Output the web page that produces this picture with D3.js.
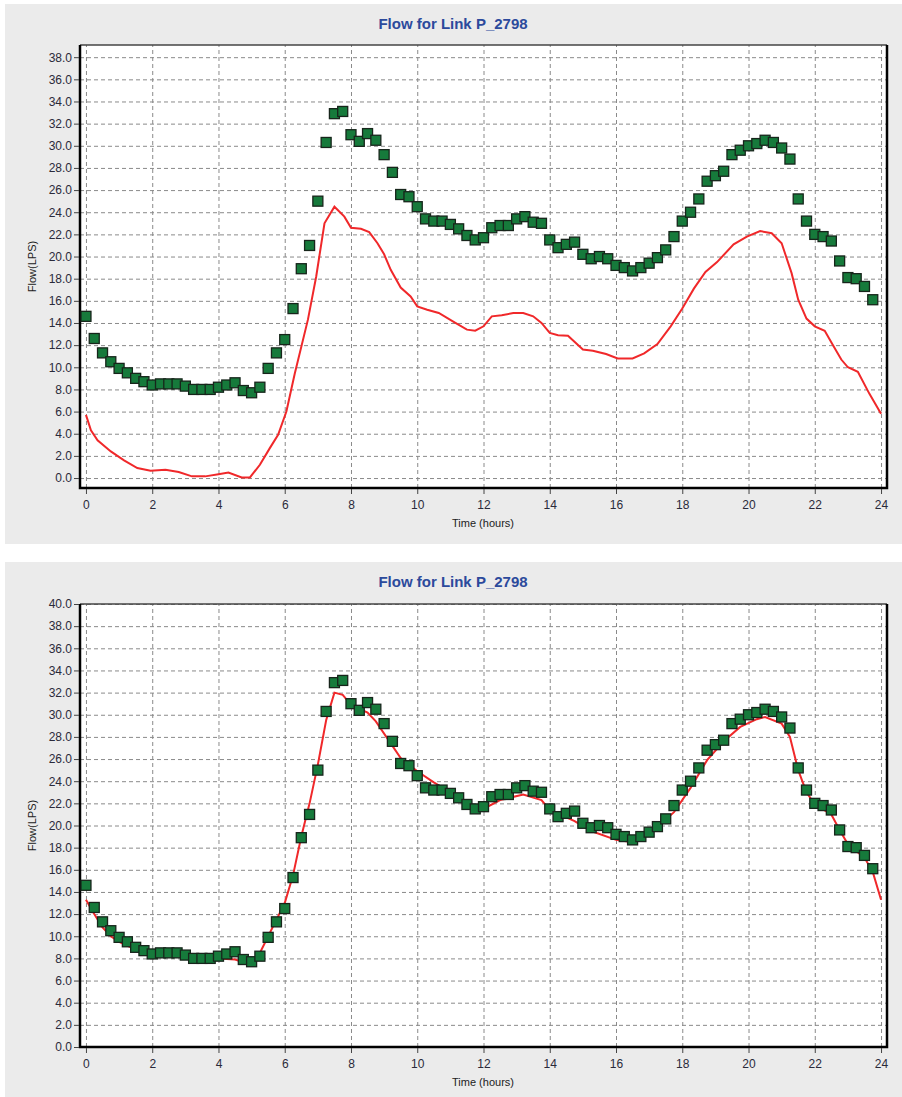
<!DOCTYPE html>
<html>
    <head>
        <title>Flow for Link P_2798</title>
        <script src="https://d3js.org/d3.v7.min.js"></script>
        <style>
            body { margin: 0; background: #fff; }
            svg { display: block; }
            .tick text {
                font-family: "Liberation Sans", Arial, sans-serif;
                font-size: 12px;
                fill: #2a2a3a;
            }
            .axis path { display: none; }
            .axis line { stroke: #444; }
            .grid line {
                stroke: #8a8a8a;
                stroke-dasharray: 4,3;
            }
            .grid path, .grid text { display: none; }
            .title {
                font-family: "Liberation Sans", Arial, sans-serif;
                font-size: 15px;
                font-weight: bold;
                fill: #2c4a9c;
            }
            .label {
                font-family: "Liberation Sans", Arial, sans-serif;
                font-size: 11px;
                fill: #222;
            }
        </style>
    </head>
    <body>
        <svg width="902" height="1097"></svg>
        <script>
            // observed flow (green squares), every 15 min
            var obsTimes = [0, 0.25, 0.5, 0.75, 1, 1.25, 1.5, 1.75, 2, 2.25, 2.5, 2.75,
                3, 3.25, 3.5, 3.75, 4, 4.25, 4.5, 4.75, 5, 5.25, 5.5, 5.75,
                6, 6.25, 6.5, 6.75, 7, 7.25, 7.5, 7.75, 8, 8.25, 8.5, 8.75,
                9, 9.25, 9.5, 9.75, 10, 10.25, 10.5, 10.75, 11, 11.25, 11.5, 11.75,
                12, 12.25, 12.5, 12.75, 13, 13.25, 13.5, 13.75, 14, 14.25, 14.5, 14.75,
                15, 15.25, 15.5, 15.75, 16, 16.25, 16.5, 16.75, 17, 17.25, 17.5, 17.75,
                18, 18.25, 18.5, 18.75, 19, 19.25, 19.5, 19.75, 20, 20.25, 20.5, 20.75,
                21, 21.25, 21.5, 21.75, 22, 22.25, 22.5, 22.75, 23, 23.25, 23.5, 23.75];
            var obsFlow = [14.6, 12.6, 11.3, 10.5, 9.9, 9.5, 9.0, 8.7, 8.4, 8.5, 8.5, 8.5,
                8.3, 8.0, 8.0, 8.0, 8.2, 8.4, 8.6, 7.9, 7.7, 8.2, 9.9, 11.3,
                12.5, 15.3, 18.9, 21.0, 25.0, 30.3, 32.9, 33.1, 31.0, 30.4, 31.1, 30.5,
                29.2, 27.6, 25.6, 25.4, 24.5, 23.4, 23.2, 23.2, 22.9, 22.5, 21.9, 21.5,
                21.7, 22.6, 22.8, 22.8, 23.4, 23.6, 23.1, 23.0, 21.5, 20.8, 21.1, 21.3,
                20.2, 19.8, 20.0, 19.8, 19.2, 19.0, 18.7, 19.0, 19.4, 19.9, 20.6, 21.8,
                23.2, 24.0, 25.2, 26.8, 27.3, 27.7, 29.2, 29.6, 30.0, 30.2, 30.5, 30.3,
                29.8, 28.8, 25.2, 23.2, 22.0, 21.8, 21.4, 19.6, 18.1, 18.0, 17.3, 16.1];

            // simulated flow, upper chart
            var topSimTimes = [0, 0.15, 0.35, 0.75, 1.15, 1.55, 1.95, 2.4, 2.8, 3.2, 3.6, 4.0,
                4.3, 4.7, 4.95, 5.25, 5.55, 5.8, 6.05, 6.3, 6.7, 6.95, 7.2, 7.5,
                7.8, 8.0, 8.3, 8.55, 8.8, 9.0, 9.2, 9.5, 9.8, 10.0, 10.3, 10.65,
                11.1, 11.5, 11.75, 12.0, 12.25, 12.55, 12.9, 13.2, 13.5, 13.75, 14.0, 14.25,
                14.55, 15.0, 15.3, 15.7, 16.05, 16.5, 16.85, 17.25, 17.65, 18.0, 18.35, 18.7,
                19.05, 19.55, 19.95, 20.35, 20.7, 21.0, 21.3, 21.5, 21.75, 22.0, 22.3, 22.55,
                22.8, 23.0, 23.3, 23.65, 24.0];
            var topSimFlow = [5.7, 4.3, 3.4, 2.4, 1.6, 0.9, 0.65, 0.75, 0.55, 0.15, 0.15, 0.35,
                0.5, 0.05, 0.05, 1.2, 2.7, 3.9, 6.0, 9.4, 14.3, 18.2, 23.0, 24.5,
                23.6, 22.6, 22.5, 22.2, 21.2, 20.2, 18.8, 17.2, 16.4, 15.5, 15.2, 14.9,
                14.1, 13.4, 13.3, 13.7, 14.6, 14.7, 14.9, 14.9, 14.6, 14.0, 13.1, 12.9,
                12.85, 11.6, 11.5, 11.2, 10.8, 10.8, 11.25, 12.1, 13.7, 15.3, 17.1, 18.6,
                19.5, 21.1, 21.8, 22.3, 22.1, 21.2, 18.5, 16.1, 14.4, 13.7, 13.3, 12.0,
                10.7, 10.0, 9.6, 7.6, 5.8];

            // simulated flow, lower chart
            var botSimTimes = [0, 0.25, 0.5, 0.75, 1.0, 1.5, 2.0, 2.5, 3.0, 3.5, 4.0, 4.5,
                4.8, 5.0, 5.25, 5.5, 5.75, 6.0, 6.25, 6.5, 6.75, 7.0, 7.25, 7.5,
                7.75, 8.0, 8.5, 8.75, 9.5, 10.0, 10.5, 11.0, 11.5, 12.0, 12.5, 13.2, 13.75,
                14.0, 14.75, 15.25, 16.0, 16.5, 17.0, 17.75, 18.25, 18.75, 19.25, 19.75, 20.25,
                20.5, 21.0, 21.25, 21.5, 21.75, 22.0, 22.5, 22.75, 23.0, 23.5, 23.75, 24.0];
            var botSimFlow = [13.3, 12.0, 10.8, 10.0, 9.5, 8.8, 8.4, 8.4, 8.2, 7.9, 8.0, 7.9,
                7.6, 7.6, 8.5, 10.0, 11.5, 13.0, 15.5, 19.0, 22.0, 25.5, 29.5, 32.0,
                31.8, 30.9, 30.2, 29.4, 26.1, 24.9, 23.9, 23.0, 21.9, 21.5, 22.3, 22.8, 22.3,
                21.4, 20.4, 19.5, 18.7, 18.5, 19.2, 21.2, 23.4, 25.9, 27.6, 28.9, 29.6,
                29.8, 29.2, 28.0, 25.0, 23.0, 21.9, 21.0, 19.6, 18.3, 17.1, 15.8, 13.3];

            var xTicks = [0, 2, 4, 6, 8, 10, 12, 14, 16, 18, 20, 22, 24];
            var topYTicks = [0, 2, 4, 6, 8, 10, 12, 14, 16, 18, 20, 22, 24, 26, 28, 30, 32, 34, 36, 38];
            var botYTicks = [0, 2, 4, 6, 8, 10, 12, 14, 16, 18, 20, 22, 24, 26, 28, 30, 32, 34, 36, 38, 40];

            var svg = d3.select("svg");

            function drawPanel(p) {
                var g = svg.append("g");

                g.append("rect")
                    .attr("x", 5).attr("y", p.panelTop)
                    .attr("width", 897).attr("height", p.panelBottom - p.panelTop)
                    .attr("fill", "#ebebeb");

                var x = d3.scaleLinear().domain([-0.18, 24.18]).range([80, 887]);
                var y = d3.scaleLinear().domain(p.yDomain).range([p.plotBottom, p.plotTop]);

                g.append("rect")
                    .attr("x", 80).attr("y", p.plotTop)
                    .attr("width", 807).attr("height", p.plotBottom - p.plotTop)
                    .attr("fill", "#fff");

                // grid lines
                g.append("g")
                    .attr("class", "grid")
                    .attr("transform", "translate(0," + p.plotBottom + ")")
                    .call(d3.axisBottom(x).tickValues(xTicks).tickSize(-(p.plotBottom - p.plotTop)));
                g.append("g")
                    .attr("class", "grid")
                    .attr("transform", "translate(80,0)")
                    .call(d3.axisLeft(y).tickValues(p.yTicks).tickSize(-807));

                // frame: thin top, heavy left/bottom/right
                g.append("line")
                    .attr("x1", 80).attr("x2", 887).attr("y1", p.plotTop).attr("y2", p.plotTop)
                    .attr("stroke", "#444").attr("stroke-width", 1.5);
                g.append("path")
                    .attr("d", "M80," + p.plotTop + "V" + p.plotBottom + "H887V" + p.plotTop)
                    .attr("fill", "none").attr("stroke", "#000").attr("stroke-width", 2.5);

                // axes
                g.append("g")
                    .attr("class", "axis")
                    .attr("transform", "translate(0," + (p.plotBottom + 1) + ")")
                    .call(d3.axisBottom(x).tickValues(xTicks).tickSize(5).tickPadding(6).tickFormat(d3.format("d")));
                g.append("g")
                    .attr("class", "axis")
                    .attr("transform", "translate(79,0)")
                    .call(d3.axisLeft(y).tickValues(p.yTicks).tickSize(5).tickPadding(2).tickFormat(d3.format(".1f")));

                // simulated line
                var line = d3.line()
                    .x(function(d) { return x(d[0]); })
                    .y(function(d) { return y(d[1]); });
                g.append("path")
                    .datum(d3.zip(p.simTimes, p.simFlow))
                    .attr("d", line)
                    .attr("fill", "none")
                    .attr("stroke", "#f0282a")
                    .attr("stroke-width", 2);

                // observed squares
                g.selectAll(".obs")
                    .data(d3.zip(obsTimes, obsFlow))
                  .enter().append("rect")
                    .attr("class", "obs")
                    .attr("x", function(d) { return x(d[0]) - 5; })
                    .attr("y", function(d) { return y(d[1]) - 5; })
                    .attr("width", 10).attr("height", 10)
                    .attr("fill", "#167a3b")
                    .attr("stroke", "#17251b")
                    .attr("stroke-width", 1.3);

                g.append("text")
                    .attr("class", "title")
                    .attr("x", 453).attr("y", p.panelTop + 25)
                    .attr("text-anchor", "middle")
                    .text("Flow for Link P_2798");

                g.append("text")
                    .attr("class", "label")
                    .attr("x", 483).attr("y", p.plotBottom + 39)
                    .attr("text-anchor", "middle")
                    .text("Time (hours)");

                g.append("text")
                    .attr("class", "label")
                    .attr("transform", "translate(36," + ((p.plotTop + p.plotBottom) / 2) + ") rotate(-90)")
                    .attr("text-anchor", "middle")
                    .text("Flow(LPS)");
            }

            drawPanel({panelTop: 4, panelBottom: 544, plotTop: 45, plotBottom: 488,
                yDomain: [-0.9, 39.1], yTicks: topYTicks,
                simTimes: topSimTimes, simFlow: topSimFlow});
            drawPanel({panelTop: 562, panelBottom: 1097, plotTop: 604, plotBottom: 1047,
                yDomain: [0, 40], yTicks: botYTicks,
                simTimes: botSimTimes, simFlow: botSimFlow});
        </script>
    </body>
</html>
